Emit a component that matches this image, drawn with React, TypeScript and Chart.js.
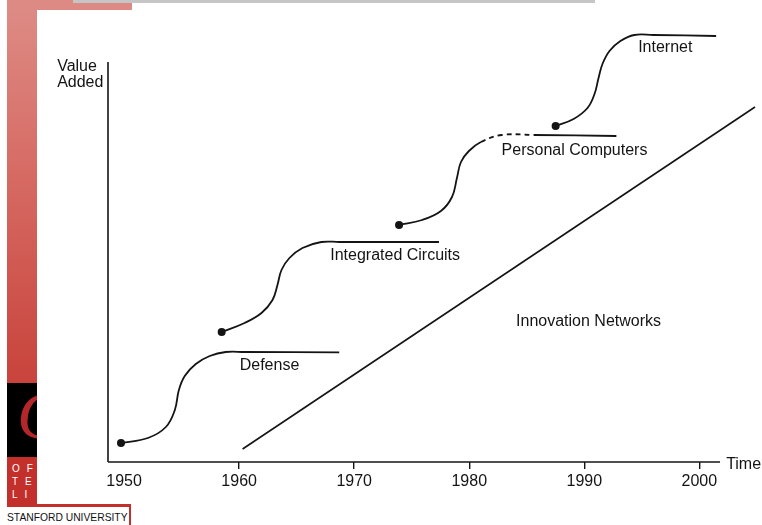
import React, { useEffect, useRef } from 'react';
import { Chart, registerables } from 'chart.js';

Chart.register(...registerables);

// ---- data (years on x, "value added" on y) ----
const defenseYears = [1949.73, 1952.07, 1953.63, 1954.41, 1954.76, 1955.27, 1956.23, 1957.44, 1958.83, 1960.47, 1968.7];
const defenseValues = [4.75, 6, 8.75, 13, 18, 21.5, 24.5, 26.5, 27.5, 27.5, 27.4];

const icYears = [1958.48, 1960.47, 1961.94, 1962.9, 1963.33, 1963.68, 1964.37, 1965.5, 1967.14, 1968.7, 1977.37];
const icValues = [32.5, 34.75, 37.25, 40.5, 44.25, 48, 51, 53.5, 55, 55, 55];

const pcYears = [1973.9, 1975.9, 1977.54, 1978.5, 1978.93, 1979.28, 1979.97, 1981.01, 1982.83, 1985.6, 1992.79];
const pcValues = [59.25, 60.5, 62.75, 66.25, 71, 75, 77.75, 80, 81.75, 81.75, 81.5];
const pcDashFrom = 1981.01;
const pcDashTo = 1985.6;

const internetYears = [1987.51, 1989.07, 1990.28, 1990.89, 1991.24, 1991.58, 1992.19, 1993.14, 1994.35, 1996.0, 2001.46];
const internetValues = [84, 85.75, 88.5, 92, 96, 99.5, 102.75, 105.25, 106.75, 106.75, 106.5];

const networkYears = [1960.3, 2004.84];
const networkValues = [3.25, 88.75];

const xAxisYears = [1948.6, 2001.8];
const xAxisValues = [0, 0];
const yAxisYears = [1948.6, 1948.6];
const yAxisValues = [0, 100];

const tickYears = [1950, 1960, 1970, 1980, 1990, 2000];
const tickLabels = ['1950', '1960', '1970', '1980', '1990', '2000'];

const labelTexts = ['Value', 'Added', 'Defense', 'Integrated Circuits', 'Personal Computers', 'Internet', 'Innovation Networks', 'Time'];
const labelYears = [1944.18, 1944.18, 1962.64, 1973.56, 1989.15, 1997.04, 1990.37, 2002.33];
const labelValues = [98.75, 94.75, 24, 51.5, 77.75, 103.5, 35, -0.75];
const labelAlign = ['left', 'left', 'center', 'center', 'center', 'center', 'center', 'left'];

const INK = '#141414';
const FONT = '"Liberation Sans", Arial, Helvetica, sans-serif';

const pts = (xs: number[], ys: number[]) => xs.map((v, i) => ({ x: v, y: ys[i] }));

export default function App() {
  const ref = useRef<HTMLCanvasElement>(null);

  useEffect(() => {
    const canvas = ref.current;
    if (!canvas) return;

    const labelPlugin = {
      id: 'textLabels',
      afterDatasetsDraw(chart: any) {
        const { ctx, scales } = chart;
        ctx.save();
        ctx.fillStyle = INK;
        ctx.font = `16px ${FONT}`;
        ctx.textBaseline = 'middle';
        labelTexts.forEach((t, i) => {
          ctx.textAlign = labelAlign[i];
          ctx.fillText(t, scales.x.getPixelForValue(labelYears[i]), scales.y.getPixelForValue(labelValues[i]));
        });
        ctx.restore();
      },
    };

    const curve = (xs: number[], ys: number[], extra: any = {}) => ({
      data: pts(xs, ys),
      borderColor: INK,
      borderWidth: 1.8,
      pointRadius: (c: any) => (c.dataIndex === 0 ? 4 : 0),
      pointBackgroundColor: INK,
      pointBorderColor: INK,
      pointBorderWidth: 0,
      tension: 0.4,
      fill: false,
      clip: false,
      ...extra,
    });

    const straight = (xs: number[], ys: number[], w: number) => ({
      data: pts(xs, ys),
      borderColor: INK,
      borderWidth: w,
      pointRadius: 0,
      tension: 0,
      fill: false,
      clip: false,
    });

    const chart = new Chart(canvas, {
      type: 'line',
      data: {
        datasets: [
          straight(xAxisYears, xAxisValues, 1.6),
          straight(yAxisYears, yAxisValues, 1.6),
          curve(defenseYears, defenseValues),
          curve(icYears, icValues),
          curve(pcYears, pcValues, {
            segment: {
              borderDash: (c: any) =>
                c.p0.parsed.x >= pcDashFrom - 0.01 && c.p1.parsed.x <= pcDashTo + 0.01 ? [5, 4] : undefined,
            },
          }),
          curve(internetYears, internetValues),
          straight(networkYears, networkValues, 1.6),
        ] as any,
      },
      options: {
        responsive: false,
        animation: false,
        devicePixelRatio: 1,
        events: [],
        layout: { padding: { left: 108, right: 2, top: 30, bottom: 33 } },
        plugins: { legend: { display: false }, tooltip: { enabled: false } },
        scales: {
          x: {
            type: 'linear',
            min: 1948.6,
            max: 2005.1,
            afterFit: (s: any) => {
              s.height = 30;
            },
            afterBuildTicks: (s: any) => {
              s.ticks = tickYears.map((v) => ({ value: v }));
            },
            border: { display: false },
            grid: {
              drawOnChartArea: false,
              drawTicks: true,
              tickLength: 7,
              lineWidth: 1.4,
              color: (c: any) => (c.tick && c.tick.value === 1950 ? 'rgba(0,0,0,0)' : INK),
            },
            ticks: {
              autoSkip: false,
              maxRotation: 0,
              padding: 3,
              color: INK,
              font: { family: FONT, size: 16 },
              callback: (_v: any, i: number) => tickLabels[i],
            },
          },
          y: { type: 'linear', display: false, min: 0, max: 108 },
        },
      } as any,
      plugins: [labelPlugin],
    });

    return () => chart.destroy();
  }, []);

  const abs = (s: React.CSSProperties): React.CSSProperties => ({ position: 'absolute', ...s });

  return (
    <div style={{ position: 'fixed', left: 0, top: 0, width: 762, height: 525, background: '#fff', overflow: 'hidden' }}>
      {/* slide frame */}
      <div style={abs({ left: 7, top: 0, width: 30, height: 384, background: 'linear-gradient(180deg, #de8c86 0%, #d66b64 45%, #c8433b 100%)' })} />
      <div style={abs({ left: 7, top: 0, width: 125, height: 10, background: '#dd8a84' })} />
      <div style={abs({ left: 7, top: 383, width: 30, height: 74, background: '#000', overflow: 'hidden' })}>
        <div style={abs({ left: 10, top: -8, fontFamily: '"Liberation Serif", serif', fontStyle: 'italic', fontSize: 68, color: '#b3262a', lineHeight: '80px' })}>C</div>
      </div>
      <div style={abs({ left: 7, top: 457, width: 124, height: 50, background: '#c3302b' })}>
        <div style={abs({ left: 5, top: 5, color: '#fff', fontFamily: FONT, fontSize: 10, letterSpacing: 7, lineHeight: '13px', whiteSpace: 'pre' })}>
          {'OF\nTEC\nLI'}
        </div>
      </div>
      <div style={abs({ left: 129, top: 504, width: 2, height: 21, background: '#c3302b' })} />
      <div style={abs({ left: 7, top: 511, fontFamily: FONT, fontSize: 10.3, color: '#111', whiteSpace: 'nowrap', lineHeight: '13px' })}>STANFORD UNIVERSITY</div>
      {/* white picture panel */}
      <div style={abs({ left: 37, top: 10, width: 725, height: 494, background: '#fff' })} />
      <div style={abs({ left: 73, top: 0, width: 522, height: 3, background: '#c6c6c6' })} />
      <canvas ref={ref} width={762} height={525} style={abs({ left: 0, top: 0, width: 762, height: 525, display: 'block' })} />
    </div>
  );
}
